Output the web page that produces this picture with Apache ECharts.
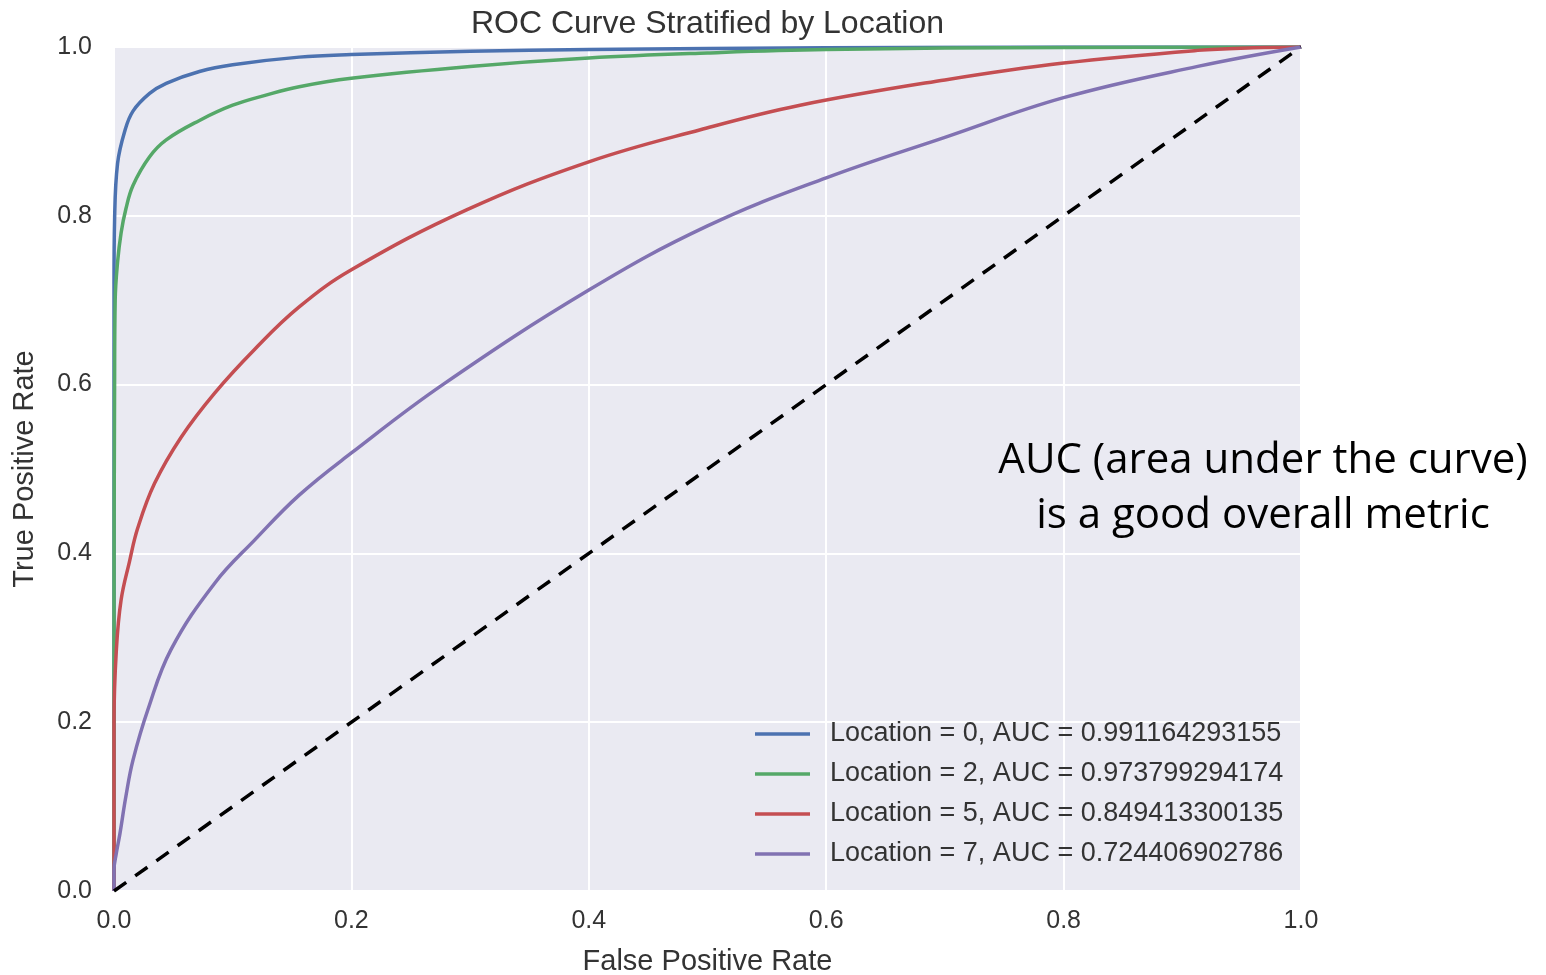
<!DOCTYPE html>
<html>
<head>
<meta charset="utf-8">
<title>ROC Curve Stratified by Location</title>
<script src="https://cdn.jsdelivr.net/npm/echarts@6/dist/echarts.min.js"></script>
<style>
  html, body { margin: 0; padding: 0; background: #fff; }
  #main { width: 1546px; height: 975px; }
</style>
</head>
<body>
<div id="main"></div>
<script>
// values
const locationNames = [
  "Location = 0, AUC = 0.991164293155",
  "Location = 2, AUC = 0.973799294174",
  "Location = 5, AUC = 0.849413300135",
  "Location = 7, AUC = 0.724406902786",
];
const lineColors = ["#4C72B0", "#55A868", "#C44E52", "#8172B2"];

const fpr0 = [0, 0, 0.0005, 0.003, 0.009, 0.016, 0.03, 0.044, 0.072, 0.1, 0.156, 0.2, 0.3, 0.4, 0.6, 0.8, 1];
const tpr0 = [0, 0.72, 0.795, 0.862, 0.9, 0.924, 0.945, 0.957, 0.971, 0.979, 0.988, 0.991, 0.995, 0.997, 0.999, 1, 1];

const fpr2 = [0, 0, 0.0005, 0.001, 0.003, 0.006, 0.01, 0.016, 0.03, 0.044, 0.072, 0.1, 0.128, 0.156, 0.2, 0.3, 0.4, 0.5, 0.6, 0.8, 1];
const tpr2 = [0, 0.3, 0.6, 0.7, 0.745, 0.78, 0.808, 0.836, 0.87, 0.89, 0.913, 0.931, 0.943, 0.953, 0.963, 0.977, 0.987, 0.993, 0.997, 0.9995, 1];

const fpr5 = [0, 0, 0.002, 0.006, 0.013, 0.02, 0.0342, 0.0567, 0.0848, 0.1186, 0.156, 0.2, 0.297, 0.4, 0.494, 0.578, 0.7, 0.8, 0.913, 0.96, 1];
const tpr5 = [0, 0.2, 0.286, 0.345, 0.39, 0.43, 0.483, 0.538, 0.59, 0.642, 0.692, 0.736, 0.807, 0.864, 0.902, 0.931, 0.961, 0.981, 0.996, 0.999, 1];

const fpr7 = [0, 0, 0.002, 0.005, 0.01, 0.016, 0.0286, 0.048, 0.085, 0.1186, 0.156, 0.2, 0.277, 0.4, 0.5, 0.6, 0.7, 0.8, 0.913, 1];
const tpr7 = [0, 0.025, 0.045, 0.068, 0.112, 0.155, 0.215, 0.286, 0.365, 0.416, 0.469, 0.519, 0.6, 0.712, 0.788, 0.845, 0.893, 0.94, 0.977, 1];

const chanceFpr = [0, 1];
const chanceTpr = [0, 1];

const titleText = "ROC Curve Stratified by Location";
const noteLines = ["AUC (area under the curve)", "is a good overall metric"];

const pairs = (xs, ys) => xs.map((x, i) => [x, ys[i]]);
const rocData = [pairs(fpr0, tpr0), pairs(fpr2, tpr2), pairs(fpr5, tpr5), pairs(fpr7, tpr7)];

const font = "'Liberation Sans', Arial, sans-serif";

// centre the title over the plot area, not the page
const measure = document.createElement("canvas").getContext("2d");
measure.font = "32px 'Liberation Sans'";
const titleWidth = measure.measureText(titleText).width;

const plotLeft = 114, plotRight = 1301, plotTop = 47, plotBottom = 891;

const myChart = echarts.init(document.getElementById("main"));

let series = rocData.map((d, i) => ({
  name: locationNames[i],
  type: "line",
  data: d,
  showSymbol: false,
  symbol: "none",
  smooth: 0.4,
  lineStyle: { color: lineColors[i], width: 3.5 },
  itemStyle: { color: lineColors[i] },
}));
series.push({
  name: "chance",
  type: "line",
  data: pairs(chanceFpr, chanceTpr),
  symbol: "none",
  lineStyle: { color: "#000", width: 3.5, type: [15, 11] },
});

let option = {
  animation: false,
  backgroundColor: "#fff",
  title: {
    text: titleText,
    left: (plotLeft + plotRight) / 2 - titleWidth / 2,
    top: 8,
    padding: 0,
    textStyle: { fontFamily: font, fontSize: 32, fontWeight: "normal", color: "#333" },
  },
  grid: {
    left: plotLeft,
    right: 1546 - plotRight,
    top: plotTop,
    bottom: 975 - plotBottom,
    outerBoundsMode: "none",
    containLabel: false,
    show: true,
    backgroundColor: "#EAEAF2",
    borderWidth: 0,
  },
  legend: {
    data: locationNames,
    orient: "vertical",
    left: 755,
    top: 719,
    padding: 0,
    itemGap: 10,
    itemWidth: 55,
    itemHeight: 3.5,
    icon: "rect",
    textStyle: {
      fontFamily: font,
      fontSize: 27,
      lineHeight: 30,
      color: "#333",
      padding: [0, 0, 0, 15],
    },
  },
  xAxis: {
    type: "value",
    min: 0,
    max: 1,
    interval: 0.2,
    name: "False Positive Rate",
    nameLocation: "middle",
    nameGap: 56,
    nameTextStyle: { fontFamily: font, fontSize: 29, color: "#333" },
    axisLine: { show: false },
    axisTick: { show: false },
    axisLabel: {
      margin: 18,
      fontFamily: font,
      fontSize: 25,
      color: "#333",
      formatter: (v) => v.toFixed(1),
    },
    splitLine: { lineStyle: { color: "#fff", width: 2 } },
  },
  yAxis: {
    type: "value",
    min: 0,
    max: 1,
    interval: 0.2,
    name: "True Positive Rate",
    nameLocation: "middle",
    nameGap: 75,
    nameTextStyle: { fontFamily: font, fontSize: 29, color: "#333" },
    axisLine: { show: false },
    axisTick: { show: false },
    axisLabel: {
      margin: 22,
      fontFamily: font,
      fontSize: 25,
      color: "#333",
      formatter: (v) => v.toFixed(1),
    },
    splitLine: { lineStyle: { color: "#fff", width: 2 } },
  },
  graphic: noteLines.map((t, i) => ({
    type: "text",
    x: 1263,
    y: 461 + i * 55,
    z: 100,
    style: {
      text: t,
      fill: "#000",
      font: "42px 'Open Sans'",
      textAlign: "center",
      textVerticalAlign: "middle",
    },
  })),
  series: series,
};

myChart.setOption(option);
</script>
</body>
</html>
